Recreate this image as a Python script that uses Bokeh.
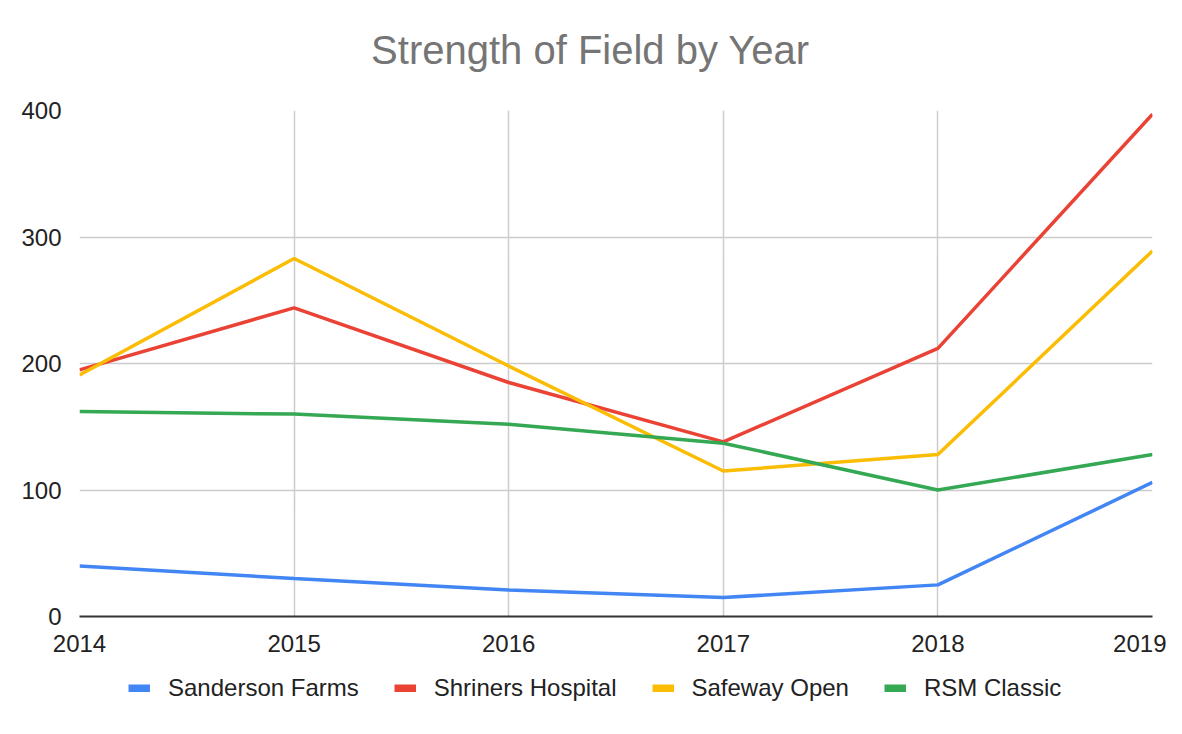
from bokeh.plotting import figure
from bokeh.models import Legend, LegendItem, FixedTicker, Range1d, Label
from bokeh.layouts import column
from bokeh.embed import file_html
from bokeh.resources import INLINE

years = [2014, 2015, 2016, 2017, 2018, 2019]
sanderson = [40, 30, 21, 15, 25, 106]
shriners = [195, 244, 185, 138, 212, 397]
safeway = [191, 283, 198, 115, 128, 289]
rsm = [162, 160, 152, 137, 100, 128]
series_names = ["Sanderson Farms", "Shriners Hospital", "Safeway Open", "RSM Classic"]
series_values = [sanderson, shriners, safeway, rsm]
colors = ["#4285F4", "#EA4335", "#FBBC04", "#34A853"]
y_ticks = [0, 100, 200, 300, 400]
title_text = "Strength of Field by Year"

FONT = "Liberation Sans"
W = 1166

# title strip
tt = figure(width=W, height=95, output_backend="svg", toolbar_location=None,
            x_range=Range1d(0, 1073), y_range=Range1d(95, 0),
            min_border_left=79, min_border_right=14, min_border_top=0, min_border_bottom=0,
            x_axis_location=None, y_axis_location=None)
tt.outline_line_color = None
tt.xgrid.visible = False
tt.ygrid.visible = False
tt.add_layout(Label(x=511, y=49, text=title_text, text_align="center",
                    text_baseline="alphabetic", text_font=FONT,
                    text_font_size="40px", text_color="#757575"))

p = figure(width=W, height=575, output_backend="svg", toolbar_location=None,
           x_range=Range1d(2014, 2019), y_range=Range1d(0, 400),
           min_border_left=79, min_border_right=14, min_border_top=15, min_border_bottom=54)

p.outline_line_color = None
p.background_fill_color = "white"
p.border_fill_color = "white"

p.xaxis.ticker = FixedTicker(ticks=years)
p.yaxis.ticker = FixedTicker(ticks=y_ticks)
for ax in (p.xaxis, p.yaxis):
    ax.major_label_text_font = FONT
    ax.major_label_text_font_size = "24px"
    ax.major_label_text_color = "#222222"
    ax.major_tick_line_color = None
    ax.minor_tick_line_color = None
p.xaxis.axis_line_color = "#333333"
p.xaxis.axis_line_width = 2
p.yaxis.axis_line_color = None
p.xaxis.major_label_standoff = 12
p.yaxis.major_label_standoff = 12

p.xgrid.grid_line_color = "#cccccc"
p.ygrid.grid_line_color = "#cccccc"
p.xgrid.grid_line_width = 1.5
p.ygrid.grid_line_width = 1.5

for vals, c in zip(series_values, colors):
    p.line(years, vals, line_color=c, line_width=3.5)

# legend strip
lg = figure(width=W, height=48, output_backend="svg", toolbar_location=None,
            x_range=Range1d(0, 1), y_range=Range1d(0, 1),
            min_border=0, x_axis_location=None, y_axis_location=None)
lg.outline_line_color = None
lg.xgrid.visible = False
lg.ygrid.visible = False
lg.border_fill_color = "white"

items = []
for name, c in zip(series_names, colors):
    dummy = lg.line(x=[-10, -9], y=[-10, -9], line_color=c, line_width=8)
    items.append(LegendItem(label=name, renderers=[dummy]))

legend = Legend(items=items, orientation="horizontal", location=(49, 16),
                padding=0, margin=0, spacing=35, label_standoff=18,
                glyph_width=22, glyph_height=8,
                label_text_font=FONT, label_text_font_size="24px",
                label_text_color="#222222",
                border_line_color=None, background_fill_alpha=0)
lg.add_layout(legend, "center")

layout = column(tt, p, lg, spacing=0)
open("out.html", "w").write(file_html(layout, INLINE))
